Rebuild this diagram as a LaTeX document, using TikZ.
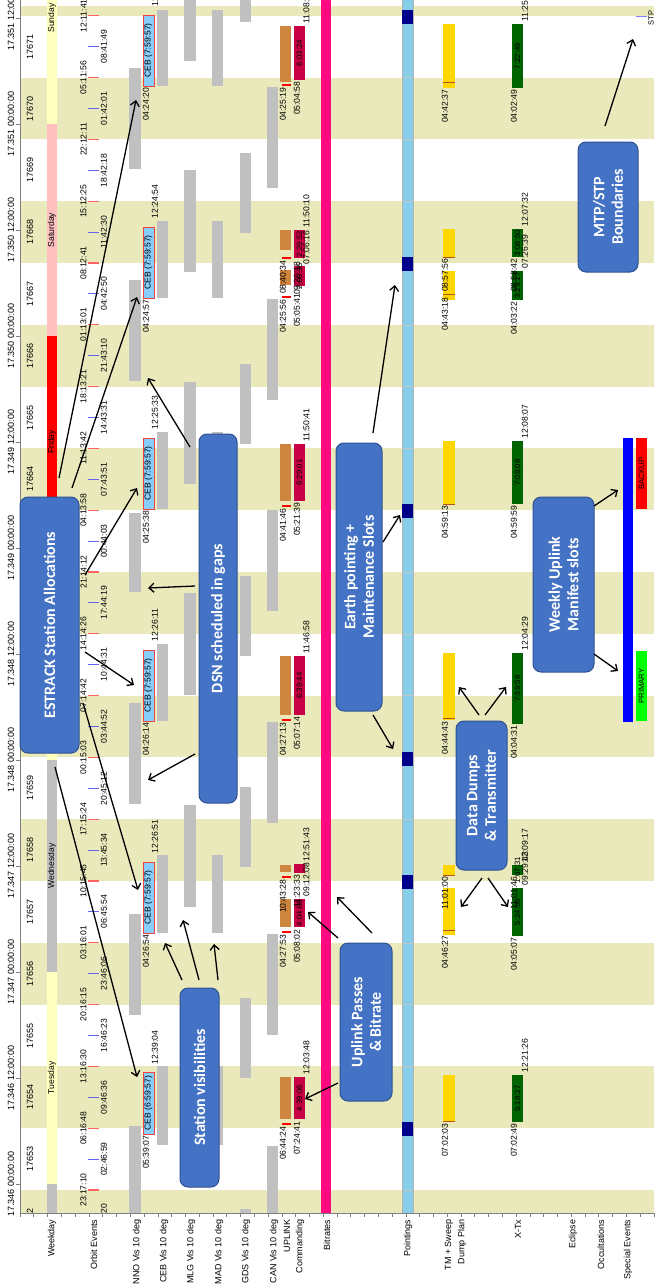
\documentclass[tikz,border=0pt]{standalone}
\usepackage{fontspec}
\setmainfont{Liberation Sans}
\newfontfamily\calloutfont{Carlito}
\usetikzlibrary{arrows.meta}
\definecolor{bandkhaki}{RGB}{233,233,188}
\definecolor{visgray}{RGB}{192,192,192}
\definecolor{lyellow}{RGB}{255,255,192}
\definecolor{lpink}{RGB}{255,192,192}
\definecolor{cebblue}{RGB}{135,206,250}
\definecolor{cebred}{RGB}{240,64,64}
\definecolor{uplorange}{RGB}{205,133,63}
\definecolor{cmdred}{RGB}{200,0,70}
\definecolor{bitpink}{RGB}{255,10,128}
\definecolor{pointblue}{RGB}{135,206,235}
\definecolor{pointnavy}{RGB}{0,0,139}
\definecolor{dumpgold}{RGB}{255,215,0}
\definecolor{dumpbrown}{RGB}{185,80,30}
\definecolor{txgreen}{RGB}{0,100,0}
\definecolor{evred}{RGB}{255,100,100}
\definecolor{evblue}{RGB}{100,100,240}
\definecolor{callfill}{RGB}{68,114,196}
\definecolor{calldraw}{RGB}{47,82,143}
\definecolor{axisgray}{RGB}{128,128,128}
\definecolor{mwblue}{RGB}{0,0,255}
\definecolor{mwgreen}{RGB}{0,255,0}
\definecolor{stpblue}{RGB}{128,128,255}
\begin{document}
\begin{tikzpicture}[x=1pt,y=-1pt,
  lbl/.style={rotate=90, inner sep=0.3pt, font=\fontsize{8.6}{9}\selectfont},
  lblS/.style={lbl, anchor=east},
  lblE/.style={lbl, anchor=west},
  lblC/.style={lbl, anchor=center},
  axlbl/.style={rotate=90, anchor=east, inner sep=0.3pt, font=\fontsize{9}{10}\selectfont},
  boxtxt/.style={lbl, anchor=center, font=\fontsize{7.8}{8}\selectfont},
  callout/.style={draw=calldraw, line width=1pt, fill=callfill, rounded corners=8pt, inner sep=0pt},
  calltext/.style={rotate=90, align=center, text=white, inner sep=0pt, font=\calloutfont\bfseries\fontsize{16}{18.5}\selectfont},
  arr/.style={line width=1.3pt, -{Straight Barb[length=5pt,width=9pt]}},
]
\useasboundingbox (0,0) rectangle (654,1285);
\fill[white] (0,0) rectangle (654,1285);

% orbit bands
\begin{scope}
  \clip (20,6) rectangle (654,1213);
  \foreach \j in {-1,1,...,19}
    \fill[bandkhaki] (20,{1190-61.8*(\j+1)}) rectangle (654,{1190-61.8*\j});
\end{scope}

\begin{scope}
\clip (20,0) rectangle (654,1213);
% weekday
\foreach \ya/\yb/\cc in {1184/1260/visgray,972/1184/lyellow,760/972/visgray,548/760/lyellow,336/548/red,124/336/lpink,-90/124/lyellow}
  \fill[\cc] (47,\ya) rectangle (57,\yb);
\foreach \y/\dd [count=\i] in {1078/Tuesday,866/Wednesday,654/Thursday,442/Friday,230/Saturday,18/Sunday}
  \node[lblC] (wd\i) at (52,\y) {\dd};
% orbit numbers
\foreach \j in {-1,...,18} {
  \pgfmathtruncatemacro\orb{53+\j}
  \node[lblC, font=\fontsize{9}{10}\selectfont] (orb\orb) at (30,{1159.1-61.8*\j}) {176\orb};
}
% orbit events
\foreach \tx [count=\j from 0] in {23:17:10,06:16:48,13:16:30,20:16:15,03:16:01,10:15:45,17:15:24,00:15:03,07:14:42,14:14:26,21:14:12,04:13:58,11:13:42,18:13:21,01:13:01,08:12:41,15:12:25,22:12:11,05:11:56,12:11:41} {
  \draw[evred, line width=1.1pt] (88,{1190-61.8*\j}) -- (99,{1190-61.8*\j});
  \node[lblC] (evr\j) at (83.5,{1190-61.8*\j}) {\tx};
}
\foreach \tx [count=\k] in {19:47:20,02:46:59,09:46:36,16:46:23,23:46:06,06:45:54,13:45:34,20:45:12,03:44:52,10:44:31,17:44:19,00:44:03,07:43:51,14:43:31,21:43:10,04:42:50,11:42:30,18:42:18,01:42:01,08:41:49} {
  \draw[evblue, line width=1.1pt] (88,{1159.1-61.8*(\k-2)}) -- (99,{1159.1-61.8*(\k-2)});
  \node[lblC] (evb\k) at (104,{1159.1-61.8*(\k-2)}) {\tx};
}
% visibilities
\foreach \ya/\yb in {68/169,279.5/381,513/592,702.5/804,914/1015,1125.5/1227} \fill[visgray] (129,\ya) rectangle (141,\yb);
\foreach \ya/\yb in {9.5/86,221/298,432/509,644/721,855/933,1066/1145} {
  \fill[visgray] (157,\ya) rectangle (168,\yb);
  \fill[visgray] (212,\ya) rectangle (223,\yb);
}
\foreach \ya in {-41,170,382,593,805,1016} \fill[visgray] (184,\ya) rectangle (196,{\ya+102});
\foreach \ya in {-58,153,364,576,787,998,1209} \fill[visgray] (240,\ya) rectangle (251,{\ya+80});
\foreach \ya in {87,299,510,722,934,1146} \fill[visgray] (267,\ya) rectangle (278,{\ya+101});
% CEB allocations
\foreach \ya/\yb/\dd [count=\i] in {15/86/7:59:57,227/298/7:59:57,438/509/7:59:57,650/721/7:59:57,862/933/7:59:57,1072/1134/6:59:57} {
  \draw[cebred, fill=cebblue, line width=0.8pt] (143,\ya) rectangle (154,\yb);
  \node[lblC] (ceb\i) at (148.5,{(\ya+\yb)/2}) {CEB (\dd)};
}
\foreach \y/\tx [count=\i] in {1135/05:39:07,934/04:26:54,722/04:26:14,510/04:25:38,299/04:24:57,87/04:24:20}
  \node[lblS] (cebs\i) at (146,\y) {\tx};
\foreach \y/\tx [count=\i] in {1065/12:39:04,854/12:26:51,642/12:26:11,430/12:25:33,219/12:24:54,7/12:24:17}
  \node[lblE] (cebe\i) at (155,\y) {\tx};
% uplink and commanding
\foreach \ya/\yb in {1077/1119,899/927,865/872,656/715,444/501,270/285,230/250,26/82}
  \fill[uplorange] (280,\ya) rectangle (291,\yb);
\foreach \y in {1124,932,877,720,506,297,258,85}
  \draw[red, line width=1.1pt] (282,\y) -- (291,\y);
\fill[cmdred] (294,864) rectangle (305,873);
\foreach \ya/\yb/\dd [count=\i] in {1077/1119/4:39:06,899/927/4:04:06,656/715/6:39:44,444/501/6:29:01,266/286/2:00:35,230/258/2:29:52,26/80/6:03:24} {
  \fill[cmdred] (294,\ya) rectangle (305,\yb);
  \node[boxtxt] (cmd\i) at (299.5,{(\ya+\yb)/2}) {\dd};
}
\foreach \y/\tx [count=\i] in {1126/06:44:24,934/04:27:53,879/10:43:28,722/04:27:13,508/04:41:46,299/04:25:56,260/08:40:34,87/04:25:19}
  \node[lblS] (ups\i) at (283,\y) {\tx};
\foreach \y/\tx [count=\i] in {1121/07:24:41,929/05:08:02,874/11:23:33,716/05:07:14,502/05:21:39,293/05:05:41,261/09:20:18,81/05:04:58}
  \node[lblS] (cms\i) at (297,\y) {\tx};
\foreach \y/\tx [count=\i] in {1075/12:03:48,897/09:12:08,862/12:51:43,654/11:46:58,442/11:50:41,265/07:06:16,228/11:50:10,24/11:08:22}
  \node[lblE] (cme\i) at (306.5,\y) {\tx};
% bitrates
\fill[bitpink] (321,0) rectangle (331,1213);
% pointings
\fill[pointblue] (402,0) rectangle (413,1213);
\foreach \j in {0,...,19} \draw[gray!45, line width=0.5pt] (402,{1190-61.8*\j}) -- (413,{1190-61.8*\j});
\draw[gray!60, line width=0.6pt] (402,0) -- (402,1213) (413,0) -- (413,1213);
\foreach \ya in {10,257,504,752,875,1122} \fill[pointnavy] (402,\ya) rectangle (413,{\ya+14});
% TM + sweep dump plan
\foreach \ya/\yb in {24/88,229/257,271/300,441/504,653/720,865/875,888/935,1075/1122}
  \fill[dumpgold] (443,\ya) rectangle (455,\yb);
\foreach \y in {82,257,294,504,718,875,930,1121}
  \draw[dumpbrown, line width=0.9pt] (443,\y) -- (455,\y);
\foreach \y/\tx [count=\i] in {89/04:42:37,258/08:57:56,297/04:43:18,505/04:59:13,721/04:44:43,876/11:01:00,935/04:46:27,1123/07:02:03}
  \node[lblS] (tms\i) at (445,\y) {\tx};
% X-Tx
\foreach \ya/\yb/\dd [count=\i] in {24/88/7:22:49,229/257/3:08:50,271/300/3:23:17,441/504/7:08:08,653/724/7:59:58,865/875/1:07:31,888/936/5:24:36,1075/1122/5:18:37} {
  \fill[txgreen] (512,\ya) rectangle (523,\yb);
  \node[boxtxt] (tx\i) at (517.5,{(\ya+\yb)/2}) {\dd};
}
\foreach \y/\tx [count=\i] in {89/04:02:49,258/08:58:42,301/04:03:22,505/04:59:59,725/04:04:31,876/11:01:46,937/04:05:07,1123/07:02:49}
  \node[lblS] (txs\i) at (514,\y) {\tx};
\foreach \y/\tx [count=\i] in {22/11:25:38,227/12:07:32,269/07:26:39,439/12:08:07,651/12:04:29,863/12:09:17,886/09:29:43,1073/12:21:26}
  \node[lblE] (txe\i) at (525,\y) {\tx};
% weekly uplink manifest
\fill[mwblue] (623,438) rectangle (633,722);
\fill[red] (636,438) rectangle (647,509);
\fill[mwgreen] (636,651) rectangle (647,721);
\node[boxtxt] (backup) at (641.5,473.5) {BACKUP};
\node[boxtxt] (primary) at (641.5,686) {PRIMARY};
% STP
\draw[stpblue, line width=1pt] (636,16) -- (647,16);
\node[lbl, anchor=east, font=\fontsize{7.5}{8}\selectfont] (stp) at (651,10) {STP};
\end{scope}

% axes
\draw[axisgray, line width=0.8pt] (20,0) -- (20,1213) -- (654,1213);
\foreach \k in {0,...,46} \draw[axisgray, line width=0.6pt] ({20+13.78*\k},1213) -- ({20+13.78*\k},1217);
\foreach \y/\tx [count=\i] in {1184/17.346 00:00:00,1078/17.346 12:00:00,972/17.347 00:00:00,866/17.347 12:00:00,760/17.348 00:00:00,654/17.348 12:00:00,548/17.349 00:00:00,442/17.349 12:00:00,336/17.350 00:00:00,230/17.350 12:00:00,124/17.351 00:00:00,18/17.351 12:00:00} {
  \draw[axisgray, line width=0.6pt] (16,\y) -- (20,\y);
  \node[lblC, font=\fontsize{9}{10}\selectfont] (tl\i) at (11,\y) {\tx};
}
\foreach \x/\tx [count=\i] in {52/Weekday,94/Orbit Events,137/NNO Vis 10 deg,164/CEB Vis 10 deg,191/MLG Vis 10 deg,219/MAD Vis 10 deg,246/GDS Vis 10 deg,274/CAN Vis 10 deg,287/UPLINK,300/Commanding,327/Bitrates,408/Pointings,449/TM + Sweep,462/Dump Plan,518/X-Tx,573/Eclipse,601/Occultations,628/Special Events}
  \node[axlbl] (ax\i) at (\x,1219) {\tx};

% callouts
\node[callout, minimum width=59pt, minimum height=256pt] (estrack) at (49.5,625) {};
\node[calltext] (estrack-t) at (estrack.center) {ESTRACK Station Allocations};
\node[callout, minimum width=38pt, minimum height=369pt] (dsn) at (218,618.5) {};
\node[calltext] (dsn-t) at (dsn.center) {DSN scheduled in gaps};
\node[callout, minimum width=39pt, minimum height=199pt] (stavis) at (199.5,1087.5) {};
\node[calltext] (stavis-t) at (stavis.center) {Station visibilities};
\node[callout, minimum width=52pt, minimum height=158pt] (uplnk) at (366,1022) {};
\node[calltext] (uplnk-t) at (uplnk.center) {Uplink Passes\\\& Bitrate};
\node[callout, minimum width=46pt, minimum height=268pt] (earth) at (359,577) {};
\node[calltext] (earth-t) at (earth.center) {Earth pointing +\\Maintenance Slots};
\node[callout, minimum width=51pt, minimum height=149pt] (dumps) at (481.5,795.5) {};
\node[calltext] (dumps-t) at (dumps.center) {Data Dumps\\\& Transmitter};
\node[callout, minimum width=61pt, minimum height=175pt] (weekly) at (563.5,584.5) {};
\node[calltext] (weekly-t) at (weekly.center) {Weekly Uplink\\Manifest slots};
\node[callout, minimum width=60pt, minimum height=130pt] (mtp) at (608,207) {};
\node[calltext] (mtp-t) at (mtp.center) {MTP/STP\\Boundaries};

% arrow end points
\coordinate (es1) at (59,478);  \coordinate (cebSun) at (136,100);
\coordinate (es2) at (72,488);  \coordinate (cebSat) at (137,297);
\coordinate (es3) at (85,575);  \coordinate (cebFri) at (137,488);
\coordinate (es4) at (85,652);  \coordinate (cebThu) at (134,685);
\coordinate (es5) at (55,767);  \coordinate (cebTue) at (137,1077);
\coordinate (es6) at (83,703);  \coordinate (cebWed) at (138,890);
\coordinate (ds1) at (190,447); \coordinate (gap1) at (148,378);
\coordinate (ds2) at (195,586); \coordinate (gap2) at (148,588);
\coordinate (ds3) at (195,754); \coordinate (gap3) at (148,780);
\coordinate (sv1) at (182,980); \coordinate (visCEB) at (165,943);
\coordinate (sv2) at (199,980); \coordinate (visMLG) at (183,920);
\coordinate (sv3) at (218,980); \coordinate (visMAD) at (214,944);
\coordinate (up1) at (372,933); \coordinate (bitr) at (337,897);
\coordinate (up2) at (338,938); \coordinate (cmdWed) at (308,912);
\coordinate (up3) at (338,1083); \coordinate (cmdTue) at (305,1099);
\coordinate (ep1) at (373,433); \coordinate (ptSat) at (395,285);
\coordinate (ep2) at (383,542); \coordinate (ptFri) at (400,515);
\coordinate (ep3) at (373,715); \coordinate (ptThu) at (393,749);
\coordinate (dd1) at (479,715); \coordinate (tmThu) at (459,687);
\coordinate (dd2) at (485,715); \coordinate (txThu) at (506,687);
\coordinate (dd3) at (482,878); \coordinate (tmWed) at (461,907);
\coordinate (dd4) at (488,878); \coordinate (txWed) at (508,907);
\coordinate (wk1) at (594,506); \coordinate (mwBack) at (618,490);
\coordinate (wk2) at (594,654); \coordinate (mwPrim) at (618,671);
\coordinate (mt1) at (605,126); \coordinate (stpMark) at (633,39);

\foreach \s/\e in {es1/cebSun,es2/cebSat,es3/cebFri,es4/cebThu,es5/cebTue,es6/cebWed,ds1/gap1,ds2/gap2,ds3/gap3,sv1/visCEB,sv2/visMLG,sv3/visMAD,up1/bitr,up2/cmdWed,up3/cmdTue,ep1/ptSat,ep2/ptFri,ep3/ptThu,dd1/tmThu,dd2/txThu,dd3/tmWed,dd4/txWed,wk1/mwBack,wk2/mwPrim,mt1/stpMark}
  \draw[arr] (\s) -- (\e);
\end{tikzpicture}
\end{document}
